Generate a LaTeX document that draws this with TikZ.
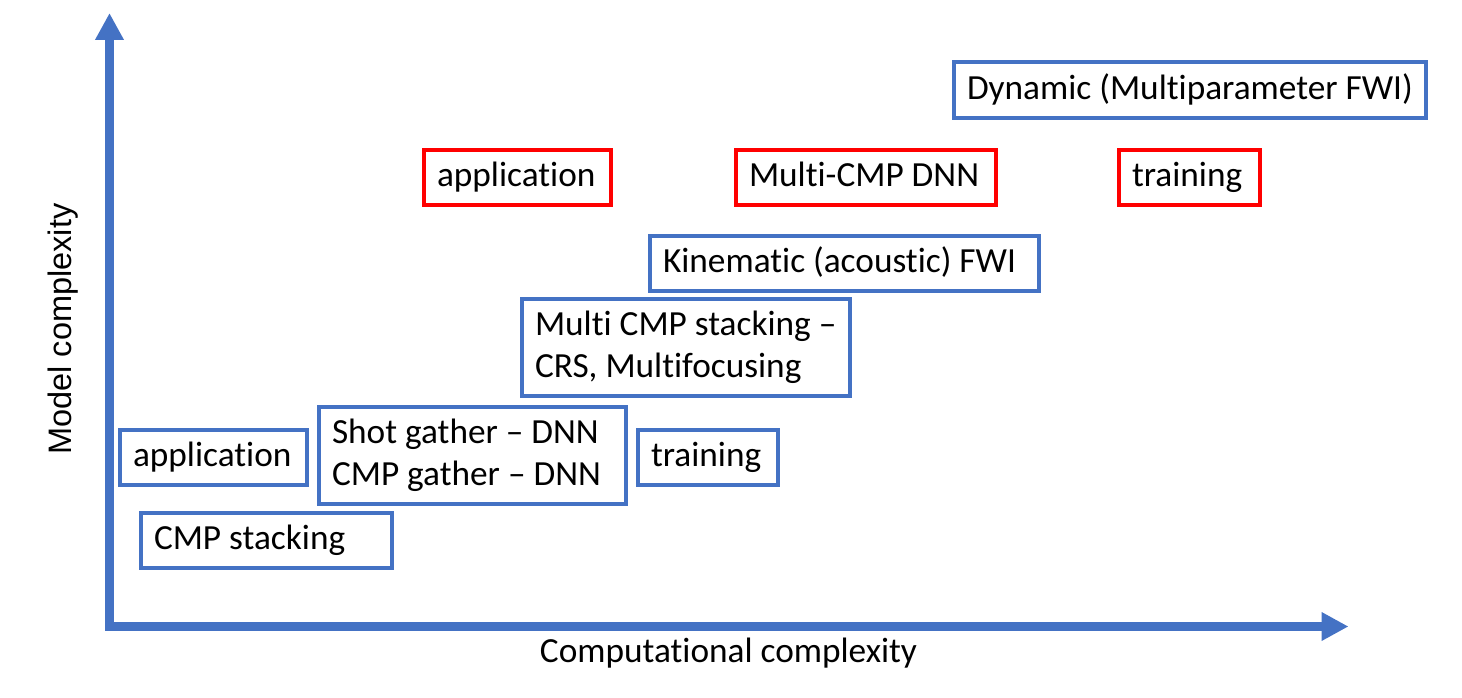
\documentclass[tikz,border=0pt]{standalone}
\usepackage{fontspec}
\setmainfont{Carlito}[RawFeature={-liga;-clig;-calt;-dlig}]
\newfontfamily\arialfont{Liberation Sans}
\usetikzlibrary{arrows.meta}
\definecolor{axblue}{HTML}{4472C4}
\definecolor{boxred}{HTML}{FF0000}
\tikzset{
  bbox/.style={draw=axblue, line width=4pt, inner xsep=13pt, inner ysep=0pt,
    align=flush left, font=\fontsize{35.3}{42}\selectfont, anchor=center,
    text height=24pt, text depth=5.6pt},
  twoline/.style={text depth=47.6pt},
  rbox/.style={bbox, draw=boxred},
  axis/.style={draw=axblue, line width=9pt, line join=miter,
    {Triangle[length=27pt,width=27pt]}-{Triangle[length=27pt,width=27pt]}},
  axlabel/.style={font=\fontsize{35.3}{42}\selectfont, anchor=base, inner sep=0pt}
}
\begin{document}
\begin{tikzpicture}[x=1pt,y=-1pt]
\useasboundingbox (0,0) rectangle (1462,698);
% axes
\coordinate (O) at (109.5,626.5);
\coordinate (ytip) at (109.5,13);
\coordinate (xtip) at (1348.5,626.5);
\draw[axis] (ytip) -- (O) -- (xtip);
\node[axlabel, font=\arialfont\fontsize{32.5}{40}\selectfont, rotate=90] (ylab) at (71.7,329) {Model complexity};
\node[axlabel] (xlab) at (728.5,662.7) {Computational complexity};
% boxes
\node[bbox, minimum height=56pt, text width=446pt] (dyn) at (1190,90) {Dynamic (Multiparameter FWI)};
\node[rbox, minimum height=55pt, text width=161pt] (appR) at (517.5,177.5) {application};
\node[rbox, minimum height=55pt, text width=234pt] (mcmp) at (866,177.5) {Multi-CMP DNN};
\node[rbox, minimum height=55pt, text width=115pt] (trR) at (1189.5,177.5) {training};
\node[bbox, minimum height=55pt, text width=363pt] (kin) at (844.5,263.5) {Kinematic (acoustic) FWI};
\node[bbox, twoline, minimum height=97pt, text width=302pt] (mstack) at (686,347.5) {\mbox{Multi CMP stacking –}\\\mbox{CRS, Multifocusing}};
\node[bbox, minimum height=55pt, text width=161pt] (appB) at (213.5,457.5) {application};
\node[bbox, twoline, minimum height=97pt, text width=281pt] (shot) at (472.5,455.5) {\mbox{Shot gather – DNN}\\\mbox{CMP gather – DNN}};
\node[bbox, minimum height=55pt, text width=114pt] (trB) at (708,457.5) {training};
\node[bbox, minimum height=55pt, text width=225pt] (cmps) at (266.5,540.5) {CMP stacking};
\end{tikzpicture}
\end{document}
